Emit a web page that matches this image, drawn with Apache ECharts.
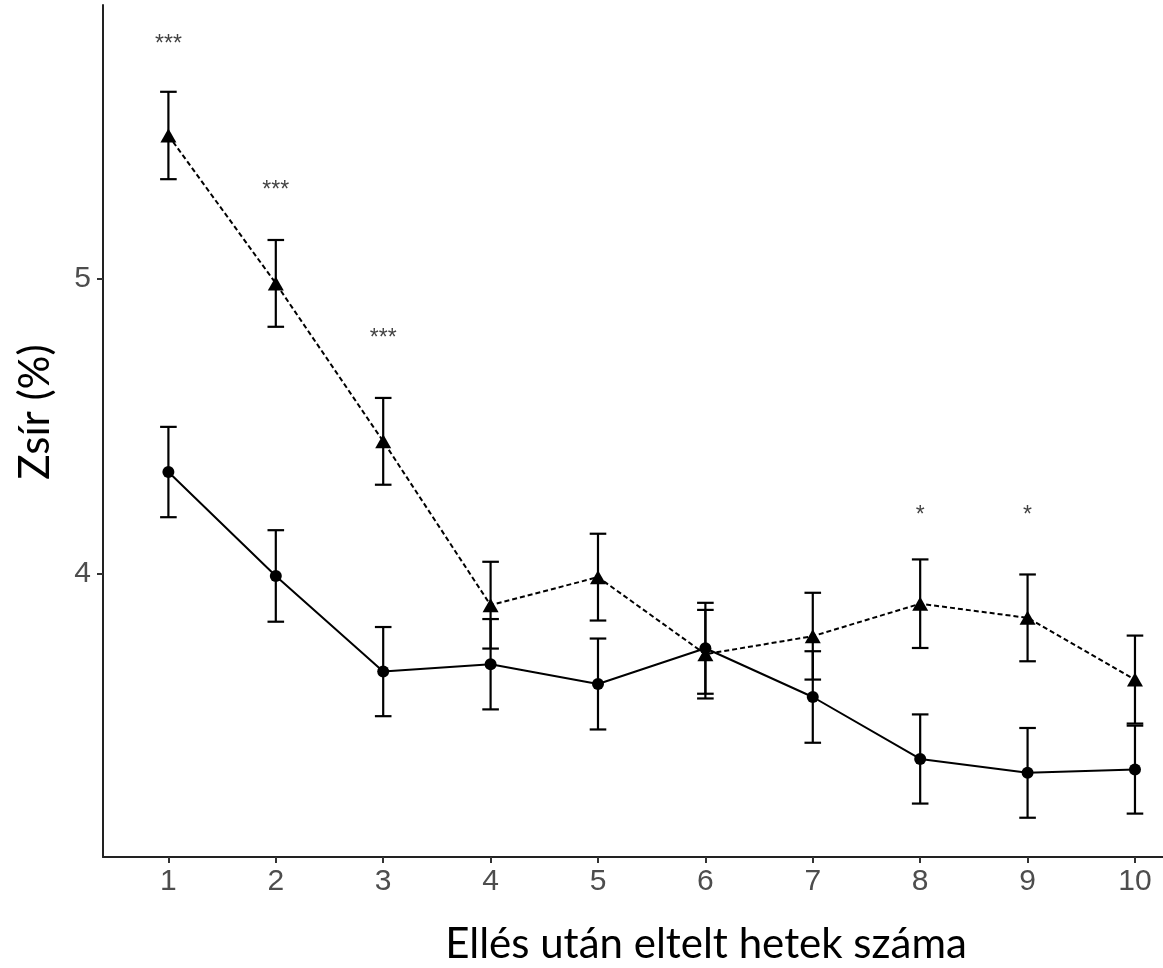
<!DOCTYPE html>
<html>
<head>
<meta charset="utf-8">
<script src="https://cdn.jsdelivr.net/npm/echarts@6/dist/echarts.min.js"></script>
<style>
  html, body { margin: 0; padding: 0; background: #ffffff; }
  #chart { width: 1163px; height: 968px; }
</style>
</head>
<body>
<div id="chart"></div>
<script>
// ---- data ----
const weeks = [1, 2, 3, 4, 5, 6, 7, 8, 9, 10];
const circleMean = [4.344, 3.992, 3.668, 3.693, 3.626, 3.747, 3.582, 3.372, 3.325, 3.336];
const circleSE   = [0.153, 0.155, 0.151, 0.153, 0.154, 0.154, 0.155, 0.151, 0.152, 0.149];
const triMean    = [5.484, 4.983, 4.448, 3.893, 3.988, 3.727, 3.788, 3.898, 3.850, 3.641];
const triSE      = [0.148, 0.147, 0.147, 0.147, 0.147, 0.150, 0.147, 0.150, 0.147, 0.149];
const sigLabels  = ['***', '***', '***', '', '', '', '', '*', '*', ''];
const sigY       = [5.804, 5.310, 4.808, null, null, null, null, 4.209, 4.209, null];
const xTicks = [1, 2, 3, 4, 5, 6, 7, 8, 9, 10];
const yTicks = [4, 5];
const xTitle = 'Ellés után eltelt hetek száma';
const yTitle = 'Zsír (%)';

// ---- build library data ----
const circlePts = weeks.map((w, i) => [w, circleMean[i]]);
const triPts = weeks.map((w, i) => [w, triMean[i]]);
const circleErr = weeks.map((w, i) => [w, circleMean[i] - circleSE[i], circleMean[i] + circleSE[i]]);
const triErr = weeks.map((w, i) => [w, triMean[i] - triSE[i], triMean[i] + triSE[i]]);
const sigPts = weeks.map((w, i) => sigY[i] == null ? null : { value: [w, sigY[i]], label: sigLabels[i] }).filter(d => d);

const CAP = 8.3;
function errorBar(params, api) {
  const x = api.value(0);
  const lo = api.coord([x, api.value(1)]);
  const hi = api.coord([x, api.value(2)]);
  const st = { stroke: '#000', lineWidth: 2.2 };
  return {
    type: 'group',
    children: [
      { type: 'line', shape: { x1: lo[0], y1: lo[1], x2: hi[0], y2: hi[1] }, style: st },
      { type: 'line', shape: { x1: hi[0] - CAP, y1: hi[1], x2: hi[0] + CAP, y2: hi[1] }, style: st },
      { type: 'line', shape: { x1: lo[0] - CAP, y1: lo[1], x2: lo[0] + CAP, y2: lo[1] }, style: st }
    ]
  };
}

const chart = echarts.init(document.getElementById('chart'), null, { renderer: 'canvas' });
chart.setOption({
  animation: false,
  backgroundColor: '#ffffff',
  grid: { left: 103, right: 0, top: 5, bottom: 111, containLabel: false },
  xAxis: {
    type: 'value',
    min: 0.391, max: 10.261,
    splitLine: { show: false },
    axisLine: { show: true, lineStyle: { color: '#222', width: 2 } },
    axisTick: { show: true, length: 6, customValues: xTicks, lineStyle: { color: '#333', width: 2 } },
    axisLabel: { customValues: xTicks, margin: 10, color: '#4D4D4D', fontSize: 30, fontFamily: 'Liberation Sans, Arial, sans-serif' }
  },
  yAxis: {
    type: 'value',
    min: 3.04, max: 5.926,
    splitLine: { show: false },
    axisLine: { show: true, lineStyle: { color: '#222', width: 2 } },
    axisTick: { show: true, length: 6, customValues: yTicks, lineStyle: { color: '#333', width: 2 } },
    axisLabel: { customValues: yTicks, margin: 12, color: '#4D4D4D', fontSize: 30, fontFamily: 'Liberation Sans, Arial, sans-serif' }
  },
  graphic: [
    { type: 'text', x: 706, y: 944, style: { text: xTitle, fill: '#000', font: '42px Lato', align: 'center', verticalAlign: 'middle' } },
    { type: 'text', x: 35, y: 412, rotation: Math.PI / 2, style: { text: yTitle, fill: '#000', font: '42px Lato', align: 'center', verticalAlign: 'middle' } }
  ],
  series: [
    {
      type: 'line', data: circlePts, symbol: 'circle', symbolSize: 12,
      lineStyle: { color: '#000', width: 2, type: 'solid' },
      itemStyle: { color: '#000' }, z: 3
    },
    {
      type: 'line', data: triPts, symbol: 'triangle', symbolSize: [16, 14],
      lineStyle: { color: '#000', width: 2, type: [5, 3] },
      itemStyle: { color: '#000' }, z: 3
    },
    { type: 'custom', data: circleErr, renderItem: errorBar, z: 4 },
    { type: 'custom', data: triErr, renderItem: errorBar, z: 4 },
    {
      type: 'scatter', data: sigPts, symbolSize: 0,
      label: {
        show: true, position: 'inside', offset: [0, 4],
        formatter: p => p.data.label,
        color: '#111', fontSize: 23, fontFamily: 'Liberation Sans, Arial, sans-serif'
      }
    }
  ]
});
</script>
</body>
</html>
